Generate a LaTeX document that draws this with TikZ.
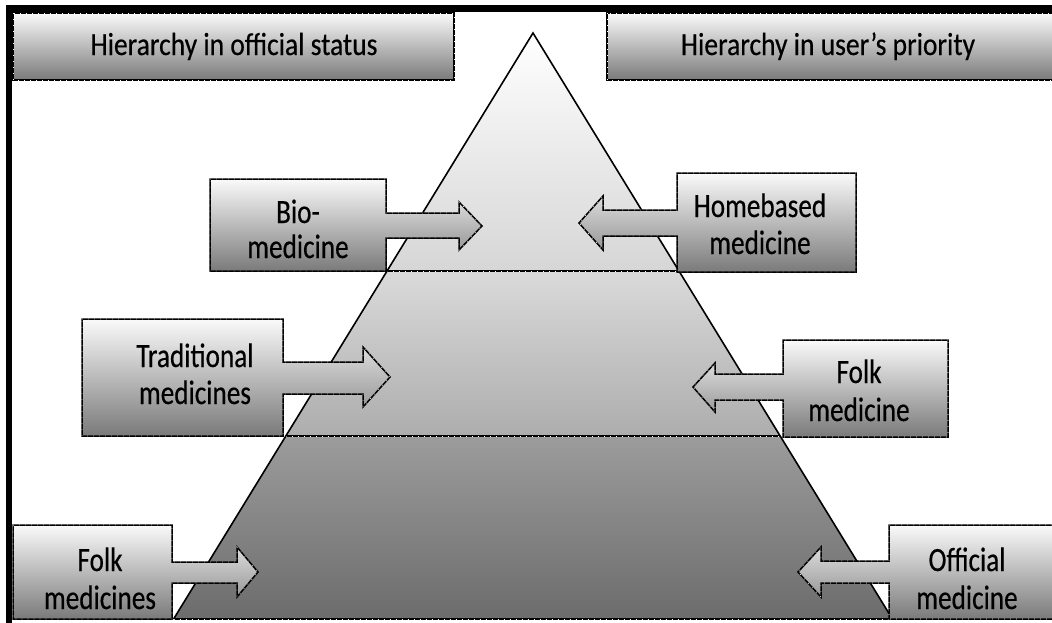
\documentclass[tikz,border=0pt]{standalone}
\usepackage{fontspec}
\newfontfamily\lblfont{Carlito}[FakeStretch=0.8, FakeBold=0.4]
\newfontfamily\headfont{Carlito}[FakeStretch=0.86, FakeBold=0.4]
\usetikzlibrary{calc}

\definecolor{boxtop}{HTML}{FAFAFA}
\definecolor{boxbot}{HTML}{7A7A7A}
\definecolor{bandAtop}{HTML}{FFFFFF}
\definecolor{bandAbot}{HTML}{D6D6D6}
\definecolor{bandBtop}{HTML}{DADADA}
\definecolor{bandBbot}{HTML}{ADADAD}
\definecolor{bandCtop}{HTML}{9C9C9C}
\definecolor{bandCbot}{HTML}{6C6C6C}

\tikzset{
  dotline/.style={draw=black, line width=1.5pt,
    postaction={draw=white, line width=0.7pt, dash pattern=on 0.7pt off 5.3pt}},
  boxshade/.style={top color=boxtop, bottom color=boxbot},
  calloutbox/.style={boxshade, dotline, line join=miter},
  lbl/.style={font=\lblfont\fontsize{34}{40}\selectfont, inner sep=0pt, anchor=base},
  headlbl/.style={font=\headfont\fontsize{32}{38}\selectfont, inner sep=0pt, anchor=base},
  edge/.style={draw=black, line width=1.6pt, line join=miter}
}

\begin{document}
\begin{tikzpicture}[x=1pt, y=-1pt]
\useasboundingbox (0,0) rectangle (1052,622);
\fill[white] (0,0) rectangle (1052,622);

% frame lines along top and left
\fill[black] (5.5,5) rectangle (1056,12.2);
\fill[black] (5.5,5) rectangle (12.2,626);

% pyramid corners and band levels
\coordinate (apex) at (533,33);
\coordinate (bl) at (173.6,619);
\coordinate (br) at (892.4,619);
\coordinate (l1) at ($(apex)!0.4061!(bl)$);
\coordinate (r1) at ($(apex)!0.4061!(br)$);
\coordinate (l2) at ($(apex)!0.6877!(bl)$);
\coordinate (r2) at ($(apex)!0.6877!(br)$);

% three shaded bands
\shade[top color=bandAtop, bottom color=bandAbot] (apex) -- (r1) -- (l1) -- cycle;
\shade[top color=bandBtop, bottom color=bandBbot] (l1) -- (r1) -- (r2) -- (l2) -- cycle;
\shade[top color=bandCtop, bottom color=bandCbot] (l2) -- (r2) -- (br) -- (bl) -- cycle;

% band borders
\path[dotline] (l1) -- (r1);
\path[dotline] (l2) -- (r2);
\path[dotline] (bl) -- (br);
\draw[edge] (bl) -- (apex) -- (br);

% headers
\path[calloutbox] (13,13) rectangle (454,80);
\path[calloutbox] (607,13) rectangle (1058,80);
\node[headlbl] (hl) at (234,55) {Hierarchy in official status};
\node[headlbl] (hr) at (828,55) {Hierarchy in user’s priority};

% right-pointing callouts (official status)
\path[calloutbox] (210,179) -- (386,179) -- (386,213) -- (459,213) -- (459,202)
  -- (482,226) -- (459,250) -- (459,238) -- (386,238) -- (386,271) -- (210,271) -- cycle;
\path[calloutbox] (82,319) -- (283,319) -- (283,362) -- (363,362) -- (363,347)
  -- (390,377) -- (363,407) -- (363,394) -- (283,394) -- (283,436) -- (82,436) -- cycle;
\path[calloutbox] (13,525) -- (172,525) -- (172,562) -- (237,562) -- (237,547)
  -- (258,572) -- (237,597) -- (237,583) -- (172,583) -- (172,619) -- (13,619) -- cycle;

% left-pointing callouts (user's priority)
\path[calloutbox] (856,173) -- (677,173) -- (677,210) -- (603,210) -- (603,196)
  -- (579,223) -- (603,250) -- (603,236) -- (677,236) -- (677,272) -- (856,272) -- cycle;
\path[calloutbox] (948,340) -- (783,340) -- (783,374) -- (715,374) -- (715,363)
  -- (693,387) -- (715,412) -- (715,400) -- (783,400) -- (783,437) -- (948,437) -- cycle;
\path[calloutbox] (1058,525) -- (889,525) -- (889,561) -- (821,561) -- (821,547)
  -- (798,572) -- (821,597) -- (821,583) -- (889,583) -- (889,619) -- (1058,619) -- cycle;

% labels
\node[lbl] (bio1) at (298,223) {Bio-};
\node[lbl] (bio2) at (298,258) {medicine};
\node[lbl] (trad1) at (195,367) {Traditional};
\node[lbl] (trad2) at (195,404) {medicines};
\node[lbl] (folkl1) at (100,571) {Folk};
\node[lbl] (folkl2) at (100,609) {medicines};
\node[lbl] (home1) at (760,217) {Homebased};
\node[lbl] (home2) at (760,254) {medicine};
\node[lbl] (folkr1) at (859,383) {Folk};
\node[lbl] (folkr2) at (859,421) {medicine};
\node[lbl] (off1) at (967,571) {Official};
\node[lbl] (off2) at (967,609) {medicine};
\end{tikzpicture}
\end{document}
